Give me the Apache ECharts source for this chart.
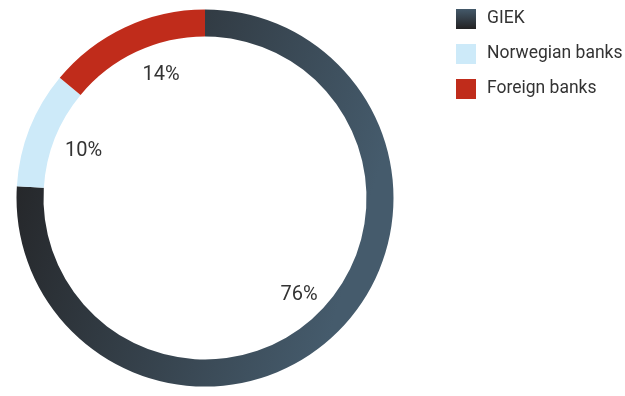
<!DOCTYPE html>
<html>
<head>
<meta charset="utf-8">
<style>
  html, body { margin: 0; padding: 0; background: #ffffff; }
  #chart { width: 625px; height: 396px; }
</style>
<script src="https://cdn.jsdelivr.net/npm/echarts@6/dist/echarts.min.js"></script>
</head>
<body>
<div id="chart"></div>
<script>
// Funding sources, shares in percent
var categories = ['GIEK', 'Norwegian banks', 'Foreign banks'];
var shares = [76, 10, 14];

var FONT = 'Roboto, "Liberation Sans", sans-serif';

// GIEK ring segment: dark on the left, slate blue on the right
var giekRing = new echarts.graphic.LinearGradient(0, 0, 1, 0.3, [
  { offset: 0, color: '#212021' },
  { offset: 1, color: '#455b6c' }
]);
// GIEK legend swatch: slate on top, dark at the bottom
var giekSwatch = new echarts.graphic.LinearGradient(0, 0, 0, 1, [
  { offset: 0, color: '#44596a' },
  { offset: 1, color: '#232223' }
]);
var flatColors = [null, '#cdeaf9', '#c02c1b'];
// small nudges so the percentage labels sit where the layout puts them
var labelNudge = [[1, -2], [5, 3], [14, 0]];

var ringData = categories.map(function (name, i) {
  return {
    name: name,
    value: shares[i],
    itemStyle: { color: i === 0 ? giekRing : flatColors[i] }
  };
});

var labelData = categories.map(function (name, i) {
  return { name: name, value: shares[i], label: { offset: labelNudge[i] } };
});

var chart = echarts.init(document.getElementById('chart'), null, { renderer: 'canvas' });

chart.setOption({
  animation: false,
  legend: {
    orient: 'vertical',
    left: 451,
    top: 4,
    itemWidth: 20,
    itemHeight: 20,
    itemGap: 15,
    icon: 'rect',
    selectedMode: false,
    textStyle: {
      fontFamily: FONT,
      fontSize: 17.5,
      color: '#333333',
      padding: [0, 0, 0, 6]
    },
    data: categories.map(function (name, i) {
      return {
        name: name,
        itemStyle: { color: i === 0 ? giekSwatch : flatColors[i] }
      };
    })
  },
  series: [
    {
      name: 'ring',
      type: 'pie',
      center: [205, 198],
      radius: [161.5, 188.5],
      startAngle: 90,
      clockwise: true,
      silent: true,
      label: { show: false },
      labelLine: { show: false },
      itemStyle: { borderWidth: 0 },
      data: ringData
    },
    {
      name: 'labels',
      type: 'pie',
      center: [205, 198],
      radius: [0, 266],
      startAngle: 90,
      clockwise: true,
      silent: true,
      itemStyle: { color: 'rgba(0,0,0,0)', borderWidth: 0 },
      label: {
        show: true,
        position: 'inside',
        fontFamily: FONT,
        fontSize: 20,
        color: '#333333',
        formatter: function (p) { return p.value + '%'; }
      },
      labelLine: { show: false },
      data: labelData
    }
  ]
});
</script>
</body>
</html>
